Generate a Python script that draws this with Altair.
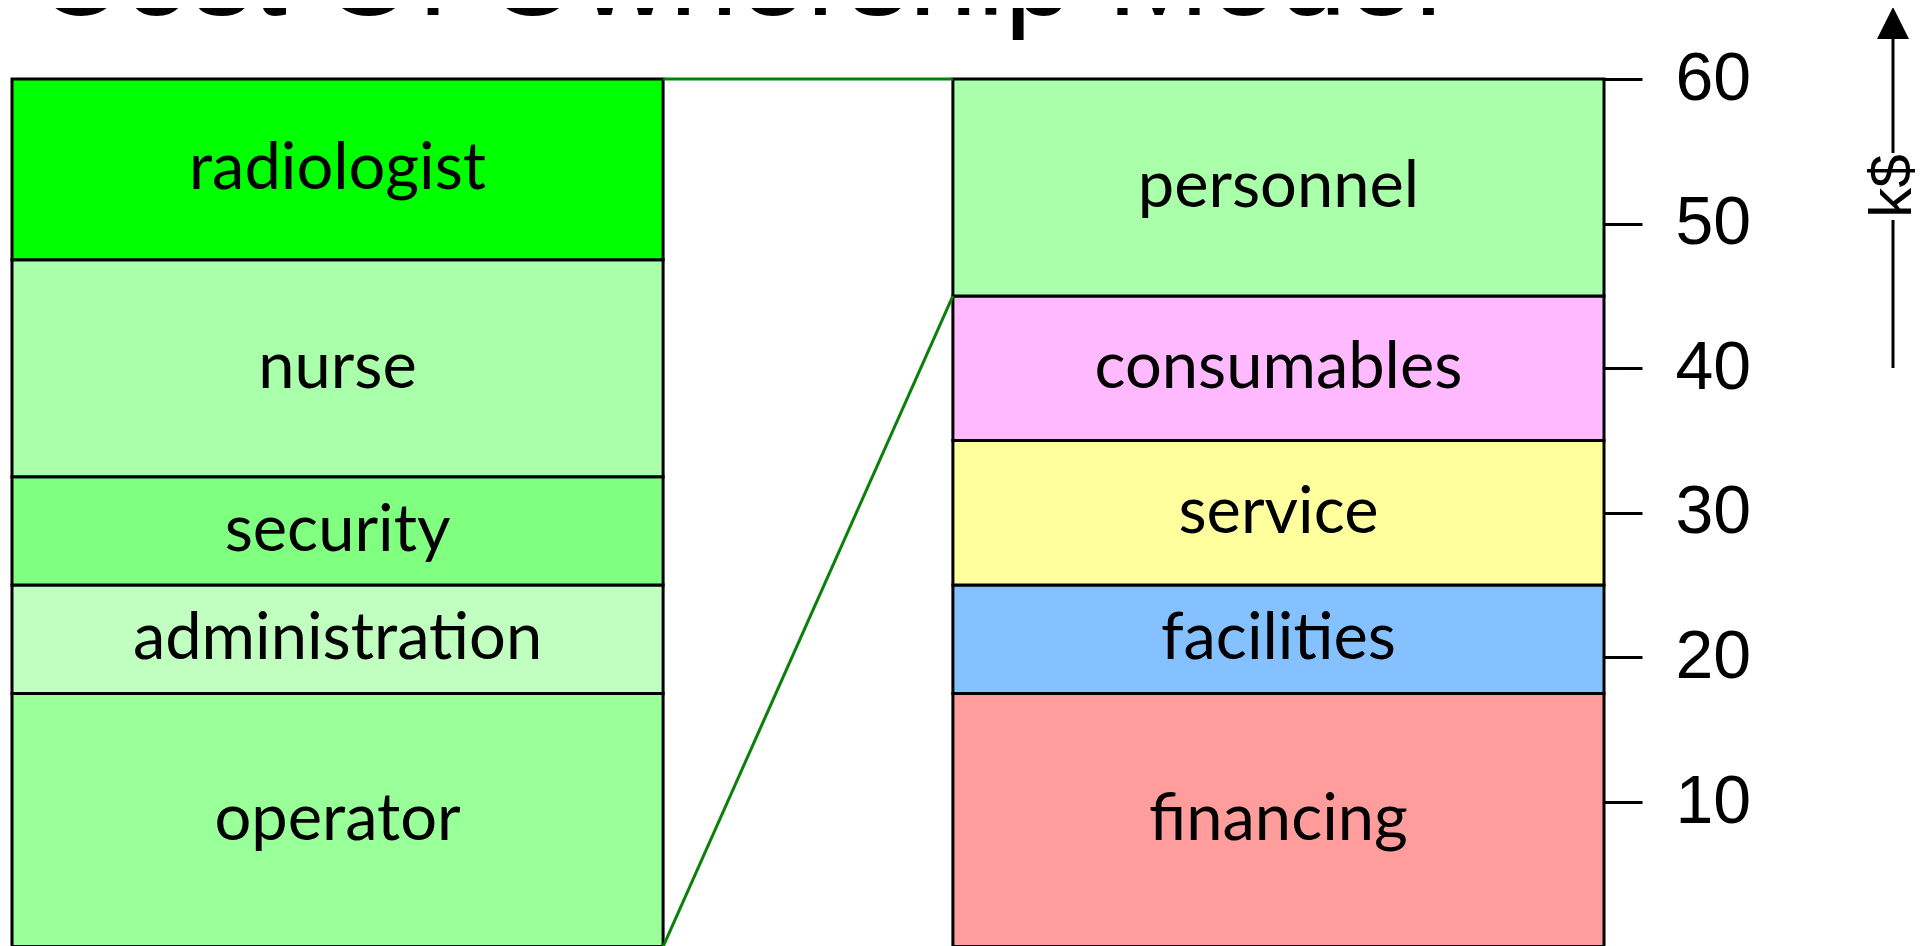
import altair as alt
import pandas as pd

# ---- data (k$) ----
title_text = "Cost Of Ownership Model"
axis_title = "k$"

breakdown_labels = ["operator", "administration", "security", "nurse", "radiologist"]
breakdown_values = [4.375, 1.875, 1.875, 3.75, 3.125]
breakdown_colors = ["#99FF99", "#C0FFC0", "#80FF80", "#AAFFAA", "#00FF00"]

total_labels = ["financing", "facilities", "service", "consumables", "personnel"]
total_values = [17.5, 7.5, 10.0, 10.0, 15.0]
total_colors = ["#FF9C9C", "#86C1FF", "#FFFF9E", "#FFB9FF", "#AAFFAA"]

tick_values = [10, 20, 30, 40, 50, 60]

# ---- build tables ----
rows = []
start = 0.0
for lab, v, c in zip(total_labels, total_values, total_colors):
    rows.append({"col": "total", "label": lab, "start": start, "end": start + v, "color": c})
    start += v
grand_total = start
personnel_start = grand_total - total_values[-1]
zoom = grand_total / sum(breakdown_values)  # left column stretched to full height

s = 0.0
for lab, v, c in zip(breakdown_labels, breakdown_values, breakdown_colors):
    rows.append({"col": "breakdown", "label": lab, "start": s * zoom, "end": (s + v) * zoom, "color": c})
    s += v
segments = pd.DataFrame(rows)
segments["mid"] = (segments["start"] + segments["end"]) / 2

connectors = pd.DataFrame({
    "y_left": [grand_total, 0.0],
    "y_right": [grand_total, personnel_start],
})

one = pd.DataFrame({"t": [title_text], "a": [axis_title]})

W = 1592
H = 867
y_scale = alt.Scale(domain=[0, 60], range=[867.6, 0], nice=False, zero=False)
x_scale = alt.Scale(domain=["breakdown", "total"], paddingInner=0.308, paddingOuter=0)

bars = alt.Chart(segments).mark_bar(stroke="black", strokeWidth=3).encode(
    x=alt.X("col:N", scale=x_scale, axis=None),
    y=alt.Y("start:Q", scale=y_scale,
            axis=alt.Axis(orient="right", values=tick_values, title=None, grid=False,
                          domain=False, tickSize=38, tickWidth=3, tickColor="black",
                          labelFontSize=68, labelFont="Liberation Sans", labelColor="black",
                          labelPadding=33)),
    y2="end:Q",
    fill=alt.Fill("color:N", scale=None),
)

labels = alt.Chart(segments).mark_text(
    font="Lato", fontSize=65, color="black", align="center", baseline="middle"
).encode(
    x=alt.X("col:N", scale=x_scale, axis=None),
    y=alt.Y("mid:Q", scale=y_scale),
    text="label:N",
)

links = alt.Chart(connectors).mark_rule(color="#0A800A", strokeWidth=3).encode(
    x=alt.value(651.1),
    x2=alt.value(940.9),
    y=alt.Y("y_left:Q", scale=y_scale),
    y2="y_right:Q",
)

title = alt.Chart(one).mark_text(
    font="Liberation Sans", fontSize=123, color="black", align="left", baseline="alphabetic"
).encode(x=alt.value(22), y=alt.value(-64), text="t:N")

arrow_up = alt.Chart(one).mark_rule(color="black", strokeWidth=3).encode(
    x=alt.value(1881), y=alt.value(-42), y2=alt.value(74))
arrow_down = alt.Chart(one).mark_rule(color="black", strokeWidth=3).encode(
    x=alt.value(1881), y=alt.value(141), y2=alt.value(289))
arrow_head = alt.Chart(one).mark_point(
    shape="M0,-1L1,1L-1,1Z", filled=True, color="black", opacity=1, size=1024, strokeWidth=0
).encode(x=alt.value(1881), y=alt.value(-56))
unit = alt.Chart(one).mark_text(
    font="Liberation Sans", fontSize=60, color="black", angle=270, align="center", baseline="middle"
).encode(x=alt.value(1881), y=alt.value(107), text="a:N")

chart = alt.layer(bars, links, labels, title, arrow_up, arrow_down, arrow_head, unit).properties(
    width=W, height=H,
    autosize=alt.AutoSizeParams(type="none"),
    padding={"left": 4, "top": 71, "right": 316, "bottom": 0},
    background="white",
).configure_view(stroke="transparent")

chart.save("out.html", embed_options={"renderer": "svg", "actions": False})
